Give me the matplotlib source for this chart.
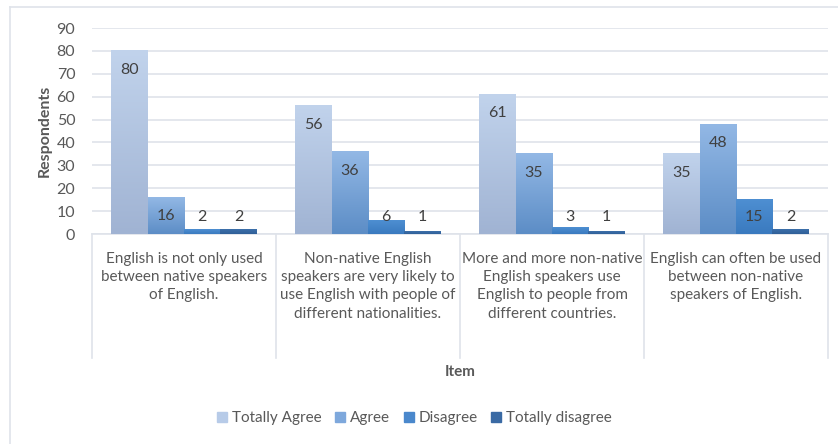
import numpy as np
import matplotlib
matplotlib.use("Agg")
import matplotlib.pyplot as plt
from matplotlib.colors import LinearSegmentedColormap
from matplotlib.lines import Line2D

plt.rcParams['font.family'] = ['Lato', 'DejaVu Sans']

items = [
    "English is not only used\nbetween native speakers\nof English.",
    "Non-native English\nspeakers are very likely to\nuse English with people of\ndifferent nationalities.",
    "More and more non-native\nEnglish speakers use\nEnglish to people from\ndifferent countries.",
    "English can often be used\nbetween non-native\nspeakers of English.",
]
series_names = ["Totally Agree", "Agree", "Disagree", "Totally disagree"]
totally_agree = [80, 56, 61, 35]
agree = [16, 36, 35, 48]
disagree = [2, 6, 3, 15]
totally_disagree = [2, 1, 1, 2]
series_values = [totally_agree, agree, disagree, totally_disagree]

# (top colour, bottom colour) of each series' vertical gradient
grad_colors = [
    ("#c1d3ec", "#a0b3d3"),
    ("#93b8e5", "#5c8dc6"),
    ("#4e8fd2", "#3a7abf"),
    ("#3d70aa", "#2f5f98"),
]
legend_colors = ["#b7cbe8", "#7ea8dc", "#4a88cc", "#3a6aa4"]

grid_c = "#dfe3ea"
text_c = "#595959"
label_c = "#404040"

fig = plt.figure(figsize=(8.38, 4.44), dpi=100)
W, H = 838, 444
ax = fig.add_axes([92 / W, (H - 234) / H, (828 - 92) / W, (234 - 28) / H])

n_cat = len(items)
bar_w = 0.198
offsets = (np.arange(4) - 1.5) * bar_w

for s, vals in enumerate(series_values):
    cmap = LinearSegmentedColormap.from_list("g%d" % s, [grad_colors[s][1], grad_colors[s][0]])
    grad = np.linspace(0, 1, 256).reshape(-1, 1)
    for i, v in enumerate(vals):
        x0 = i + offsets[s] - bar_w / 2
        ax.imshow(grad, cmap=cmap, origin="lower", aspect="auto",
                  extent=[x0, x0 + bar_w, 0, v], zorder=3, interpolation="bilinear")
        ly = max(v - 8.3, 7.4)
        ax.text(i + offsets[s], ly, str(v), ha="center", va="center",
                fontsize=11.5, color=label_c, zorder=5)

ax.set_xlim(-0.5, n_cat - 0.5)
ax.set_ylim(0, 90)
ax.set_yticks(np.arange(0, 91, 10))
ax.yaxis.grid(True, color=grid_c, linewidth=1.2, zorder=0)
ax.set_axisbelow(True)
for sp in ax.spines.values():
    sp.set_visible(False)
ax.tick_params(axis="y", length=0, labelsize=11.5, labelcolor=text_c, pad=12)
ax.set_xticks([])

# category boxes below the axis
box_bottom = -(358 - 234) / (234 - 28)
ax.plot([-0.5, n_cat - 0.5], [0, 0], transform=ax.get_xaxis_transform(),
        color=grid_c, lw=1.2, clip_on=False, zorder=2)
for b in np.arange(-0.5, n_cat, 1.0):
    ax.plot([b, b], [0, box_bottom], transform=ax.get_xaxis_transform(),
            color=grid_c, lw=1.2, clip_on=False)
for i, lab in enumerate(items):
    ax.text(i, -0.085, lab, transform=ax.get_xaxis_transform(), ha="center", va="top",
            fontsize=11, color=text_c, linespacing=1.4)

fig.text(45 / W, 1 - 131 / H, "Respondents", rotation=90, ha="center", va="center",
         fontsize=11.5, fontweight="bold", color=text_c)
fig.text(460 / W, 1 - 372 / H, "Item", ha="center", va="center",
         fontsize=11, fontweight="bold", color=text_c)

handles = [Line2D([], [], marker="s", linestyle="none", markersize=7,
                  markerfacecolor=c, markeredgecolor=c) for c in legend_colors]
fig.legend(handles, series_names, loc="center", bbox_to_anchor=(414 / W, 1 - 418 / H),
           ncol=4, frameon=False, fontsize=11, labelcolor=text_c,
           handletextpad=0.25, columnspacing=0.8, handlelength=0.8)

# outer chart border
fig.add_artist(Line2D([10 / W, 10 / W], [0, 1 - 7 / H], transform=fig.transFigure,
                      color=grid_c, lw=1.2))
fig.add_artist(Line2D([10 / W, 1], [1 - 7 / H, 1 - 7 / H], transform=fig.transFigure,
                      color=grid_c, lw=1.2))

fig.savefig("out.png", dpi=100)
